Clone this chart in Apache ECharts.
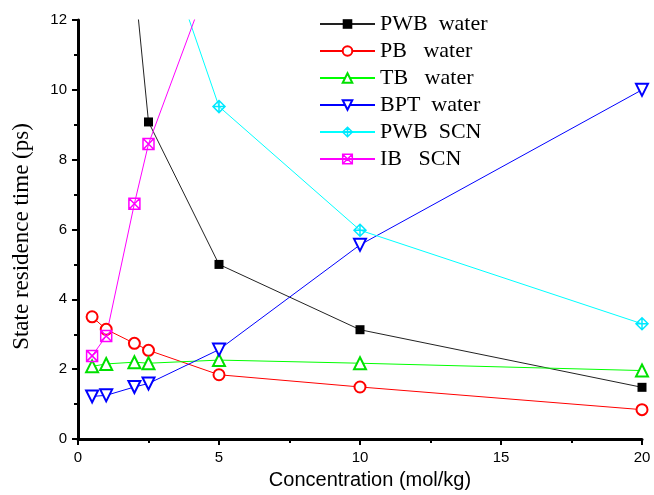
<!DOCTYPE html>
<html>
<head>
<meta charset="utf-8">
<script src="https://cdn.jsdelivr.net/npm/echarts@6/dist/echarts.min.js"></script>
<style>html,body{margin:0;padding:0;background:#fff}#c{width:654px;height:495px}</style>
</head>
<body>
<div id="c"></div>
<script>
const xPWBw = [2, 2.5, 5, 10, 20];
const yPWBw = [13.2, 9.08, 5.0, 3.13, 1.48];
const xPBw = [0.5, 1, 2, 2.5, 5, 10, 20];
const yPBw = [3.50, 3.14, 2.74, 2.54, 1.84, 1.49, 0.84];
const xTBw = [0.5, 1, 2, 2.5, 5, 10, 20];
const yTBw = [2.08, 2.15, 2.20, 2.17, 2.26, 2.17, 1.96];
const xBPTw = [0.5, 1, 2, 2.5, 5, 10, 20];
const yBPTw = [1.22, 1.25, 1.49, 1.59, 2.56, 5.56, 10.0];
const xPWBs = [2.5, 5, 10, 20];
const yPWBs = [15.4, 9.52, 5.98, 3.30];
const xIBs = [0.5, 1, 2, 2.5, 5];
const yIBs = [2.38, 2.95, 6.74, 8.45, 13.9];
const names = ['PWB  water', 'PB   water', 'TB   water', 'BPT  water', 'PWB  SCN', 'IB   SCN'];
const xTicks = [0, 5, 10, 15, 20];
const yTicks = [0, 2, 4, 6, 8, 10, 12];

function pairs(xs, ys) { return xs.map((x, i) => [x, ys[i]]); }

const chart = echarts.init(document.getElementById('c'));
const diamondPlus = 'path://M10,0 L20,10 L10,20 L0,10 Z M10,0 L10,20 M0,10 L20,10';
const xBox = 'path://M0,0 L20,20 M20,0 L0,20 M0,0 L20,0 L20,20 L0,20 Z';

chart.setOption({
  animation: false,
  grid: {left: 78, top: 20, width: 564, height: 421, containLabel: false},
  xAxis: {
    type: 'value', min: xTicks[0], max: xTicks[xTicks.length - 1], interval: 5,
    name: 'Concentration (mol/kg)', nameLocation: 'middle', nameGap: 31,
    nameTextStyle: {fontFamily: 'Liberation Sans', fontSize: 20, color: '#000', padding: [0, 0, 0, 20]},
    axisLine: {show: true, onZero: false, lineStyle: {color: '#000', width: 3}},
    axisTick: {show: true, length: 6, lineStyle: {color: '#000', width: 2}},
    minorTick: {show: true, splitNumber: 2, length: 4, lineStyle: {color: '#000', width: 2}},
    splitLine: {show: false},
    axisLabel: {fontFamily: 'Liberation Sans', fontSize: 15, color: '#000', margin: 11}
  },
  yAxis: {
    type: 'value', min: yTicks[0], max: yTicks[yTicks.length - 1], interval: 2,
    name: 'State residence time (ps)', nameLocation: 'middle', nameGap: 45, nameRotate: 90,
    nameTextStyle: {fontFamily: 'Liberation Serif', fontSize: 23, color: '#000', padding: [0, 14, 0, 0]},
    axisLine: {show: true, onZero: false, lineStyle: {color: '#000', width: 3}},
    axisTick: {show: true, length: 6, lineStyle: {color: '#000', width: 2}},
    minorTick: {show: true, splitNumber: 2, length: 4, lineStyle: {color: '#000', width: 2}},
    splitLine: {show: false},
    axisLabel: {fontFamily: 'Liberation Sans', fontSize: 15, color: '#000', margin: 11}
  },
  legend: {
    orient: 'vertical', left: 319, top: 13, padding: 0,
    itemWidth: 55, itemHeight: 12, itemGap: 5,
    textStyle: {fontFamily: 'Liberation Serif', fontSize: 22, color: '#000', lineHeight: 20},
    data: [
      {name: names[0]}, {name: names[1]}, {name: names[2]}, {name: names[3]},
      {name: names[4], itemStyle: {color: 'none', borderColor: '#00e8ff', borderWidth: 1.5}},
      {name: names[5], itemStyle: {color: 'none', borderColor: '#ff00ff', borderWidth: 1.5}}
    ]
  },
  series: [
    {type: 'line', name: names[0], data: pairs(xPWBw, yPWBw), symbol: 'rect', symbolSize: 9,
      lineStyle: {color: '#222', width: 1}, itemStyle: {color: '#000'}},
    {type: 'line', name: names[1], data: pairs(xPBw, yPBw), symbol: 'emptyCircle', symbolSize: 11,
      lineStyle: {color: '#ff0000', width: 1}, itemStyle: {color: '#ff0000', borderWidth: 1}},
    {type: 'line', name: names[2], data: pairs(xTBw, yTBw), symbol: 'emptyTriangle', symbolSize: 12,
      lineStyle: {color: '#00ff00', width: 1}, itemStyle: {color: '#00e000', borderWidth: 1}},
    {type: 'line', name: names[3], data: pairs(xBPTw, yBPTw), symbol: 'emptyTriangle', symbolSize: 12, symbolRotate: 180,
      lineStyle: {color: '#0000ff', width: 1}, itemStyle: {color: '#0000ff', borderWidth: 1}},
    {type: 'line', name: names[4], data: pairs(xPWBs, yPWBs), symbol: diamondPlus, symbolSize: 12,
      lineStyle: {color: '#00ffff', width: 1}, itemStyle: {color: 'none', borderColor: '#00e8ff', borderWidth: 1.5}},
    {type: 'line', name: names[5], data: pairs(xIBs, yIBs), symbol: xBox, symbolSize: 11,
      lineStyle: {color: '#ff00ff', width: 1}, itemStyle: {color: 'none', borderColor: '#ff00ff', borderWidth: 1.5}}
  ]
});
</script>
</body>
</html>
